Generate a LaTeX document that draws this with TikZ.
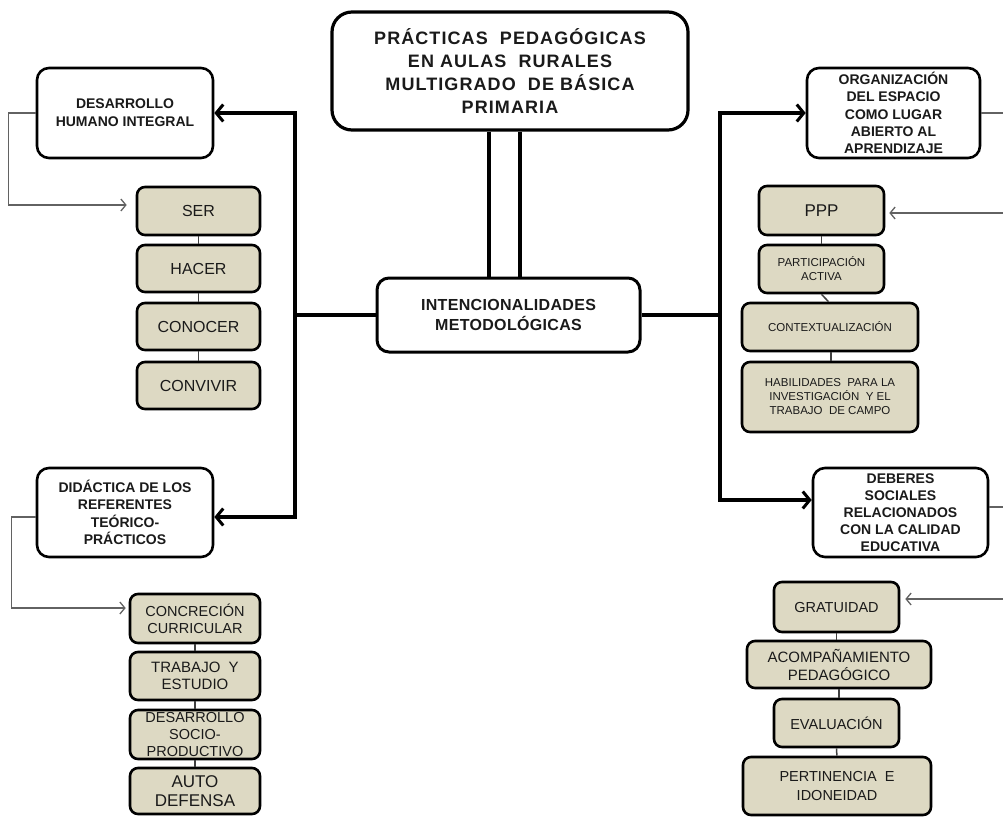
\documentclass[tikz,border=0pt]{standalone}
\usepackage{fontspec}
\setmainfont{Liberation Sans}
\newfontfamily\titlefont[LetterSpace=6]{Liberation Sans}
\newfontfamily\midfont[LetterSpace=2]{Liberation Sans}
\usetikzlibrary{arrows.meta}
\definecolor{beige}{HTML}{DDD9C3}
\definecolor{txt}{HTML}{1A1A1A}
\definecolor{thingray}{HTML}{626262}
\definecolor{conn}{HTML}{404040}
\newcommand{\fs}[2]{\fontsize{#1}{#2}\selectfont}
\tikzset{
  hdr/.style={draw=black, line width=2.6pt, rounded corners=12pt, fill=white, align=center, inner sep=0pt, text=txt},
  subbox/.style={draw=black, line width=2.6pt, rounded corners=8pt, fill=beige, align=center, inner sep=0pt, text=txt},
  bigline/.style={line width=4pt},
  bigarrow/.style={line width=4pt, -{Straight Barb[length=7pt,width=17pt,line width=3pt]}},
  thinarrow/.style={draw=thingray, line width=1.4pt, -{Straight Barb[length=5pt,width=12pt,line width=1.3pt]}},
  thinline/.style={draw=thingray, line width=1.4pt},
  link/.style={draw=conn, line width=1.5pt},
}
\begin{document}
\begin{tikzpicture}[x=1pt,y=-1pt]
\useasboundingbox (0,0) rectangle (1003,816);

% title and centre
\node[hdr, rounded corners=20pt, line width=3.2pt, minimum width=356pt, minimum height=118pt,
      font=\titlefont\bfseries\fs{18}{23}] (title) at (510,71)
  {PRÁCTICAS \ PEDAGÓGICAS\\EN AULAS \ RURALES\\MULTIGRADO \ DE BÁSICA\\PRIMARIA};
\node[hdr, line width=3pt, minimum width=263pt, minimum height=74pt,
      font=\midfont\bfseries\fs{16}{20}] (ctr) at (508.5,315)
  {INTENCIONALIDADES\\METODOLÓGICAS};

\draw[line width=3.5pt] ([xshift=-21pt]title.south) -- ([xshift=-21pt]title.south |- ctr.north);
\draw[line width=3.5pt] ([xshift=10pt]title.south) -- ([xshift=10pt]title.south |- ctr.north);

% left headers
\node[hdr, minimum width=176pt, minimum height=90pt, font=\bfseries\fs{14}{18}] (dh) at (125,113)
  {DESARROLLO\\HUMANO INTEGRAL};
\node[hdr, minimum width=176pt, minimum height=89pt, font=\bfseries\fs{14}{17.5}] (did) at (125,512.5)
  {DIDÁCTICA DE LOS\\REFERENTES\\TEÓRICO-\\PRÁCTICOS};

% right headers
\node[hdr, minimum width=173pt, minimum height=90pt, font=\bfseries\fs{14}{17.3}] (org) at (893.5,113)
  {ORGANIZACIÓN\\DEL ESPACIO\\COMO LUGAR\\ABIERTO AL\\APRENDIZAJE};
\node[hdr, minimum width=175pt, minimum height=89pt, font=\bfseries\fs{14}{17}] (deb) at (900.5,512.5)
  {DEBERES\\SOCIALES\\RELACIONADOS\\CON LA CALIDAD\\EDUCATIVA};

% left stack 1
\node[subbox, minimum width=123pt, minimum height=48pt, font=\fs{16}{19}] (ser) at (198.5,211) {SER};
\node[subbox, minimum width=123pt, minimum height=47pt, font=\fs{16}{19}] (hac) at (198.5,268.5) {HACER};
\node[subbox, minimum width=123pt, minimum height=47pt, font=\fs{16}{19}] (cono) at (198.5,326.5) {CONOCER};
\node[subbox, minimum width=123pt, minimum height=47pt, font=\fs{16}{19}] (conv) at (198.5,385.5) {CONVIVIR};

% left stack 2
\node[subbox, minimum width=130pt, minimum height=49pt, font=\fs{14.5}{17}] (conc) at (195,618.5) {CONCRECIÓN\\CURRICULAR};
\node[subbox, minimum width=130pt, minimum height=48pt, font=\fs{15}{17.5}] (trab) at (195,676) {TRABAJO \ Y\\ESTUDIO};
\node[subbox, minimum width=130pt, minimum height=49pt, font=\fs{14.5}{17}] (dsp) at (195,734.5) {DESARROLLO\\SOCIO-\\PRODUCTIVO};
\node[subbox, minimum width=130pt, minimum height=46pt, font=\fs{17}{19.5}] (auto) at (195,791) {AUTO\\DEFENSA};

% right stack 1
\node[subbox, minimum width=125pt, minimum height=49pt, font=\fs{17}{20}] (ppp) at (821.5,210.5) {PPP};
\node[subbox, minimum width=125pt, minimum height=48pt, font=\fs{11.5}{14}] (part) at (821.5,269) {PARTICIPACIÓN\\ACTIVA};
\node[subbox, minimum width=176pt, minimum height=48pt, font=\fs{11.5}{14}] (cont) at (830,327) {CONTEXTUALIZACIÓN};
\node[subbox, minimum width=176pt, minimum height=70pt, font=\fs{11.5}{14}] (hab) at (830,397)
  {HABILIDADES \ PARA LA\\INVESTIGACIÓN \ Y EL\\TRABAJO \ DE CAMPO};

% right stack 2
\node[subbox, minimum width=125pt, minimum height=50pt, font=\fs{14.5}{17}] (grat) at (836.5,607) {GRATUIDAD};
\node[subbox, minimum width=184pt, minimum height=47pt, font=\fs{15}{18}] (acom) at (839,664.5) {ACOMPAÑAMIENTO\\PEDAGÓGICO};
\node[subbox, minimum width=125pt, minimum height=48pt, font=\fs{14.5}{17}] (eval) at (836.5,723) {EVALUACIÓN};
\node[subbox, minimum width=188pt, minimum height=58pt, font=\fs{14.5}{19}] (pert) at (837,786) {PERTINENCIA \ E\\IDONEIDAD};

% trunk lines
\coordinate (lj) at (295,315);
\coordinate (rj) at (720,315);
\draw[bigline] (ctr.west) -- (lj);
\draw[bigarrow] (lj) |- (dh.east);
\draw[bigarrow] (lj) |- ([yshift=-4.5pt]did.east);
\draw[bigline] (ctr.east) -- (rj);
\draw[bigarrow] (rj) |- (org.west);
\draw[bigarrow] (rj) |- ([yshift=12.5pt]deb.west);

% thin elbows on the left
\draw[thinarrow, shorten >=9pt] (dh.west) -- ++(-27,0) |- ([yshift=6pt]ser.west);
\draw[thinarrow, shorten >=3pt] ([yshift=-4.5pt]did.west) -- ++(-24,0) |- ([yshift=10.5pt]conc.west);

% thin lines at the right edge
\coordinate (e1) at (1003,113);
\coordinate (e2) at (1003,213);
\coordinate (e3) at (1003,507);
\coordinate (e4) at (1003,599);
\draw[thinline] (org.east) -- (e1);
\draw[thinarrow, shorten >=4pt] (e2) -- ([yshift=-2.5pt]ppp.east);
\draw[thinline] ([yshift=5.5pt]deb.east) -- (e3);
\draw[thinarrow, shorten >=5pt] (e4) -- ([yshift=8pt]grat.east);

% stack links
\draw[link] (ser) -- (hac);
\draw[link] (hac) -- (cono);
\draw[link] (cono) -- (conv);
\draw[link] (conc) -- (trab);
\draw[link] (trab) -- (dsp);
\draw[link] (dsp) -- (auto);
\draw[link] (ppp) -- (part);
\draw[link] (part.south) -- ([xshift=7pt]part.south |- cont.north);
\draw[link] ([xshift=1pt]cont.south) -- ([xshift=1pt]cont.south |- hab.north);
\draw[link] (grat.south) -- (grat.south |- acom.north);
\draw[link] (acom.south) -- (acom.south |- eval.north);
\draw[link] (eval) -- (pert);
\end{tikzpicture}
\end{document}
